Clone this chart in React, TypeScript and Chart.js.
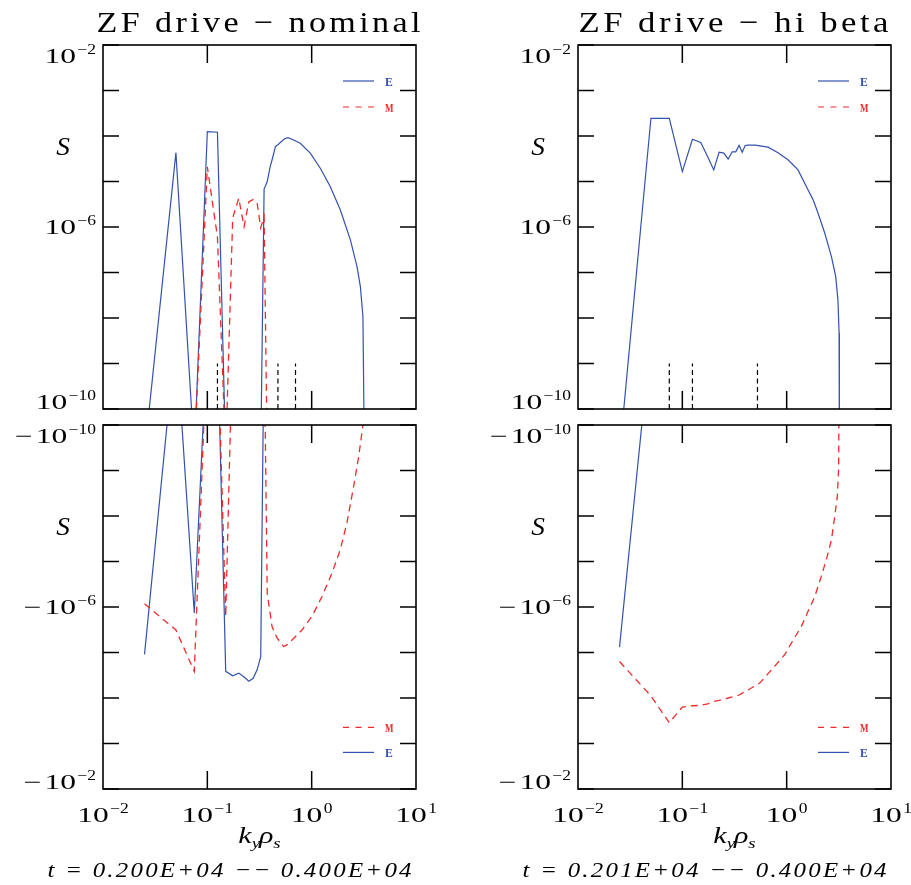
import React, { useEffect, useRef } from 'react';
import { Chart, registerables } from 'chart.js';
Chart.register(...registerables);

const W = 911;
const H = 885;
const BLUE = '#3352ad';
const RED = '#f22a2a';
const SERIF = '"Liberation Serif", "DejaVu Serif", serif';

// ---------------- data ----------------
// ZF drive - nominal
const kE_nom = [0.025, 0.05, 0.075, 0.1, 0.125, 0.15, 0.175, 0.2, 0.225, 0.25, 0.275, 0.3, 0.325, 0.35, 0.375, 0.4, 0.425, 0.45, 0.475, 0.5, 0.55, 0.593, 0.671, 0.778, 0.97, 1.21, 1.51, 1.88, 2.35, 2.72, 2.93, 3.1, 3.2];
const sE_nom = [-1.1e-5, 4.3e-5, -1.36e-6, 1.25e-4, 1.21e-4, -2.6e-5, -3.25e-5, -2.84e-5, -3.47e-5, -4.26e-5, -3.7e-5, -2.4e-5, -1.23e-5, 6.8e-6, 1.0e-5, 2.1e-5, 3.5e-5, 5.9e-5, 6.4e-5, 7.2e-5, 8.7e-5, 9.2e-5, 8.2e-5, 6.9e-5, 4.2e-5, 1.96e-5, 7.7e-6, 2.4e-6, 5.2e-7, 1.35e-7, 4.9e-8, 1.08e-8, 0];
const kM_nom = [0.025, 0.05, 0.075, 0.1, 0.125, 0.15, 0.175, 0.2, 0.225, 0.25, 0.275, 0.3, 0.325, 0.35, 0.375, 0.417, 0.466, 0.539, 0.58, 0.697, 0.807, 1.007, 1.256, 1.566, 1.88, 2.18, 2.52, 2.82, 3.1, 3.2];
const sM_nom = [-8.5e-7, -3.2e-6, -2.6e-5, 2.1e-5, 6e-7, -1.6e-6, 1.57e-6, 4.3e-6, 1.02e-6, 3.6e-6, 4.0e-6, 3.4e-6, 9.6e-7, 1.7e-6, -5e-7, -2.7e-6, -4.8e-6, -7.4e-6, -6.8e-6, -4.5e-6, -3.2e-6, -1.6e-6, -5.9e-7, -1.8e-7, -5.5e-8, -1.4e-8, -2.3e-9, -5e-10, -1e-10, 0];
const marks_nom = [0.125, 0.475, 0.7];

// ZF drive - hi beta
const kE_hi = [0.025, 0.05, 0.075, 0.1, 0.125, 0.15, 0.175, 0.2, 0.225, 0.25, 0.275, 0.3, 0.325, 0.35, 0.375, 0.4, 0.425, 0.45, 0.475, 0.5, 0.662, 0.826, 1.03, 1.285, 1.6, 1.79, 2.0, 2.32, 2.69, 2.95, 3.1, 3.18, 3.2];
const sE_hi = [-7.6e-6, 2.45e-4, 2.45e-4, 1.65e-5, 8.5e-5, 7.2e-5, 3.5e-5, 1.8e-5, 4.4e-5, 4.2e-5, 3.1e-5, 4.5e-5, 4.5e-5, 6.2e-5, 4.4e-5, 6.2e-5, 6.3e-5, 6.3e-5, 6.3e-5, 6.3e-5, 5.7e-5, 4.3e-5, 3.0e-5, 1.8e-5, 6.6e-6, 4.0e-6, 2.0e-6, 7.3e-7, 2.2e-7, 8.2e-8, 2.5e-8, 4.7e-9, 0];
const kM_hi = [0.025, 0.05, 0.075, 0.1, 0.125, 0.15, 0.175, 0.2, 0.225, 0.25, 0.275, 0.3, 0.35, 0.4, 0.45, 0.5, 0.552, 0.767, 0.957, 1.11, 1.38, 1.6, 1.86, 2.15, 2.4, 2.69, 2.89, 3.06, 3.15, 3.2];
const sM_hi = [-1.58e-5, -9e-5, -3.5e-4, -1.58e-4, -1.48e-4, -1.45e-4, -1.35e-4, -1.19e-4, -1.13e-4, -1.05e-4, -1.0e-4, -9.5e-5, -8.6e-5, -7.2e-5, -6.2e-5, -5.4e-5, -4.7e-5, -2.0e-5, -1.12e-5, -6.2e-6, -2.7e-6, -1.26e-6, -5.9e-7, -2.1e-7, -9.1e-8, -3.3e-8, -1.0e-8, -3.7e-9, -8.3e-10, 0];
const marks_hi = [0.075, 0.125, 0.525];

// axes / labels
const X_MIN = 0.01;
const X_MAX = 10;
const Y_MIN = 1e-10;
const Y_MAX = 1e-2;
const Y_MAJOR_EXPS = [-2, -3, -4, -5, -6, -7, -8, -9, -10];
const Y_LABEL_EXPS = [-2, -6, -10];
const X_INNER_EXPS = [-1, 0];
const X_LABEL_EXPS = [-2, -1, 0, 1];
const MARK_LO = 1e-10;
const MARK_HI = 1e-9;
const FLOOR_TOP = 1e-11; // where non-positive values are sent on the positive panels
const FLOOR_BOT = 1e-12; // where non-negative values are sent on the negative panels

const TITLE_NOM = 'ZF drive − nominal';
const TITLE_HI = 'ZF drive − hi beta';
const T_NOM = 't = 0.200E+04 −− 0.400E+04';
const T_HI = 't = 0.201E+04 −− 0.400E+04';

// ---------------- layout ----------------
const COLS = { L: { l: 103, r: 416 }, R: { l: 578, r: 891 } };
const ROWS = { T: { t: 45, b: 409 }, B: { t: 425, b: 789 } };

type Series = { k: number[]; s: number[] };
type PanelCfg = {
  id: string;
  col: 'L' | 'R';
  row: 'T' | 'B';
  title: string;
  tline: string;
  E: Series;
  M: Series;
  marks: number[];
};

const PANELS: PanelCfg[] = [
  { id: 'nomT', col: 'L', row: 'T', title: TITLE_NOM, tline: T_NOM, E: { k: kE_nom, s: sE_nom }, M: { k: kM_nom, s: sM_nom }, marks: marks_nom },
  { id: 'nomB', col: 'L', row: 'B', title: TITLE_NOM, tline: T_NOM, E: { k: kE_nom, s: sE_nom }, M: { k: kM_nom, s: sM_nom }, marks: marks_nom },
  { id: 'hiT', col: 'R', row: 'T', title: TITLE_HI, tline: T_HI, E: { k: kE_hi, s: sE_hi }, M: { k: kM_hi, s: sM_hi }, marks: marks_hi },
  { id: 'hiB', col: 'R', row: 'B', title: TITLE_HI, tline: T_HI, E: { k: kE_hi, s: sE_hi }, M: { k: kM_hi, s: sM_hi }, marks: marks_hi },
];

// ---------------- text helpers ----------------
function txt(
  ctx: CanvasRenderingContext2D,
  s: string,
  x: number,
  y: number,
  font: string,
  o: { align?: 'left' | 'center' | 'right'; sx?: number; width?: number; ls?: number; color?: string } = {}
): number {
  ctx.save();
  ctx.font = font;
  (ctx as any).letterSpacing = (o.ls || 0) + 'px';
  ctx.fillStyle = o.color || '#000';
  ctx.textBaseline = 'alphabetic';
  ctx.textAlign = 'left';
  const w = ctx.measureText(s).width - (o.ls || 0);
  let sx = o.sx || 1;
  if (o.width) sx = o.width / w;
  const tw = w * sx;
  let x0 = x;
  if (o.align === 'center') x0 = x - tw / 2;
  else if (o.align === 'right') x0 = x - tw;
  ctx.translate(x0, y);
  ctx.scale(sx, 1);
  ctx.fillText(s, 0, 0);
  ctx.restore();
  return tw;
}

function measure(ctx: CanvasRenderingContext2D, s: string, font: string, sx: number) {
  ctx.save();
  ctx.font = font;
  (ctx as any).letterSpacing = '0px';
  const w = ctx.measureText(s).width * sx;
  ctx.restore();
  return w;
}

const BASE_FONT = `21px ${SERIF}`;
const BASE_SX = 1.5;
const EXP_FONT = `14px ${SERIF}`;
const EXP_SX = 1.25;

function drawPow(ctx: CanvasRenderingContext2D, x: number, y: number, neg: boolean, exp: number, align: 'right' | 'center') {
  const es = exp < 0 ? '−' + String(-exp) : String(exp);
  const wp = neg ? measure(ctx, '−', BASE_FONT, BASE_SX) + 3 : 0;
  const wb = measure(ctx, '10', BASE_FONT, BASE_SX);
  const we = measure(ctx, es, EXP_FONT, EXP_SX);
  const total = wp + wb + 1.5 + we;
  let x0 = align === 'right' ? x - total : x - total / 2;
  if (neg) txt(ctx, '−', x0, y, BASE_FONT, { sx: BASE_SX });
  txt(ctx, '10', x0 + wp, y, BASE_FONT, { sx: BASE_SX });
  txt(ctx, es, x0 + wp + wb + 1.5, y - 9, EXP_FONT, { sx: EXP_SX });
}

function drawKyRho(ctx: CanvasRenderingContext2D, cx: number, y: number) {
  const SX = 1.25;
  const big = `italic 24px ${SERIF}`;
  const small = `italic 15px ${SERIF}`;
  const parts: [string, string, number, number][] = [
    ['k', big, 0, 0],
    ['y', small, 5, -1],
    ['ρ', big, 0, 0],
    ['s', small, 5, 0],
  ];
  let total = 0;
  for (const p of parts) total += measure(ctx, p[0], p[1], SX) + p[3];
  let x = cx - total / 2;
  for (const p of parts) {
    txt(ctx, p[0], x, y + p[2], p[1], { sx: SX });
    x += measure(ctx, p[0], p[1], SX) + p[3];
  }
}

function seg(ctx: CanvasRenderingContext2D, x1: number, y1: number, x2: number, y2: number) {
  ctx.beginPath();
  ctx.moveTo(x1, y1);
  ctx.lineTo(x2, y2);
  ctx.stroke();
}

// ---------------- chart config ----------------
function buildConfig(p: PanelCfg): any {
  const col = COLS[p.col];
  const row = ROWS[p.row];
  const top = p.row === 'T';
  const map = (v: number) => (top ? (v > 0 ? v : FLOOR_TOP) : v < 0 ? -v : FLOOR_BOT);
  const pts = (ser: Series) => ser.k.map((k, i) => ({ x: k, y: map(ser.s[i]) }));

  const datasets: any[] = [
    { label: 'M', data: pts(p.M), borderColor: RED, borderWidth: 1.3, borderDash: [7, 5], pointRadius: 0, fill: false, tension: 0 },
    { label: 'E', data: pts(p.E), borderColor: BLUE, borderWidth: 1.2, pointRadius: 0, fill: false, tension: 0 },
  ];
  if (top) {
    p.marks.forEach((m, i) => {
      datasets.push({
        label: 'mark' + i,
        data: [
          { x: m, y: MARK_LO },
          { x: m, y: MARK_HI },
        ],
        borderColor: '#000',
        borderWidth: 1.2,
        borderDash: [5, 3.5],
        pointRadius: 0,
        fill: false,
      });
    });
  }

  const decor = {
    id: 'decor_' + p.id,
    afterDraw(chart: any) {
      const ctx: CanvasRenderingContext2D = chart.ctx;
      const a = chart.chartArea;
      const xs = chart.scales.x;
      const ys = chart.scales.y;
      ctx.save();
      ctx.strokeStyle = '#000';
      ctx.lineWidth = 1.5;
      ctx.setLineDash([]);
      for (const e of Y_MAJOR_EXPS) {
        const py = ys.getPixelForValue(Math.pow(10, e));
        seg(ctx, a.left, py, a.left + 16, py);
        seg(ctx, a.right - 16, py, a.right, py);
      }
      for (const e of X_INNER_EXPS) {
        const px = xs.getPixelForValue(Math.pow(10, e));
        seg(ctx, px, a.bottom, px, a.bottom - 18);
        seg(ctx, px, a.top, px, a.top + 18);
      }
      ctx.lineWidth = 1.6;
      ctx.strokeRect(a.left, a.top, a.right - a.left, a.bottom - a.top);

      // y tick labels
      for (const e of Y_LABEL_EXPS) {
        const py = ys.getPixelForValue(Math.pow(10, e));
        let by = py + 7;
        if (Math.abs(py - a.top) < 1) by = py + 18;
        else if (Math.abs(py - a.bottom) < 1) by = py;
        drawPow(ctx, a.left - 7, by, !top, e, 'right');
      }

      // S label
      txt(ctx, 'S', a.left - 40, top ? a.top + 110 : a.top + 110, `italic 26px ${SERIF}`, { align: 'center', sx: 1.05 });

      // legend
      const ly = top ? [a.top + 36, a.top + 62] : [a.bottom - 36.6, a.bottom - 61.6];
      const x1 = a.right - 73;
      const x2 = a.right - 42;
      ctx.lineWidth = 1.2;
      ctx.strokeStyle = BLUE;
      ctx.setLineDash([]);
      seg(ctx, x1, ly[0], x2, ly[0]);
      ctx.strokeStyle = RED;
      ctx.setLineDash([6, 6.5]);
      seg(ctx, x1, ly[1], x2, ly[1]);
      ctx.setLineDash([]);
      txt(ctx, 'E', a.right - 31, ly[0] + 4.7, `bold 13px ${SERIF}`, { color: BLUE, width: 7.8 });
      txt(ctx, 'M', a.right - 31, ly[1] + 4.7, `bold 13px ${SERIF}`, { color: RED, width: 8.5 });

      const cx = (a.left + a.right) / 2;
      if (top) {
        txt(ctx, p.title, cx - 1, 32, `30px ${SERIF}`, { align: 'center', ls: 3, width: p.col === 'L' ? 324 : 310 });
      } else {
        for (const e of X_LABEL_EXPS) {
          const px = xs.getPixelForValue(Math.pow(10, e));
          drawPow(ctx, px, 822, false, e, 'center');
        }
        drawKyRho(ctx, cx, 843);
        txt(ctx, p.tline, cx - 30, 877, `italic 22px ${SERIF}`, { align: 'center', ls: 2, width: 364 });
      }
      ctx.restore();
    },
  };

  return {
    type: 'line',
    data: { datasets },
    options: {
      responsive: false,
      maintainAspectRatio: false,
      animation: false,
      events: [],
      layout: { padding: { left: col.l, right: W - col.r, top: row.t, bottom: H - row.b } },
      scales: {
        x: { type: 'logarithmic', min: X_MIN, max: X_MAX, display: false },
        y: { type: 'logarithmic', min: Y_MIN, max: Y_MAX, display: false, reverse: !top },
      },
      plugins: { legend: { display: false }, title: { display: false }, tooltip: { enabled: false } },
    },
    plugins: [decor],
  };
}

function PanelChart({ p }: { p: PanelCfg }) {
  const ref = useRef<HTMLCanvasElement>(null);
  useEffect(() => {
    const chart = new Chart(ref.current as HTMLCanvasElement, buildConfig(p));
    return () => chart.destroy();
  }, [p]);
  return <canvas ref={ref} width={W} height={H} style={{ position: 'absolute', left: 0, top: 0, width: W, height: H }} />;
}

export default function App() {
  return (
    <div style={{ position: 'absolute', left: 0, top: 0, width: W, height: H, background: '#fff', overflow: 'hidden' }}>
      {PANELS.map((p) => (
        <PanelChart key={p.id} p={p} />
      ))}
    </div>
  );
}
